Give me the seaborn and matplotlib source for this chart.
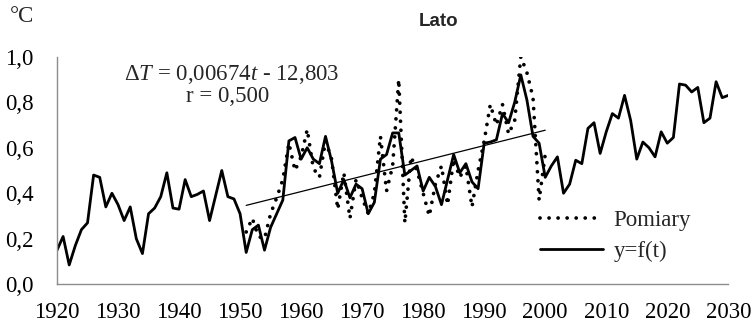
import numpy as np
import pandas as pd
import matplotlib
matplotlib.use("Agg")
import matplotlib.pyplot as plt
import seaborn as sns

# ---- data ----
model_years = list(range(1920, 2031))
model_values = [
    0.15, 0.21, 0.085, 0.17, 0.24, 0.27, 0.48, 0.47, 0.34, 0.40,   # 1920-1929
    0.35, 0.28, 0.34, 0.20, 0.135, 0.31, 0.335, 0.385, 0.49, 0.335,  # 1930-1939
    0.33, 0.46, 0.385, 0.395, 0.41, 0.28, 0.39, 0.50, 0.385, 0.375,  # 1940-1949
    0.31, 0.14, 0.24, 0.26, 0.15, 0.25, 0.31, 0.37, 0.63, 0.645,     # 1950-1959
    0.55, 0.60, 0.55, 0.53, 0.65, 0.54, 0.40, 0.46, 0.38, 0.44,      # 1960-1969
    0.42, 0.31, 0.36, 0.55, 0.57, 0.665, 0.665, 0.48, 0.50, 0.52,    # 1970-1979
    0.41, 0.47, 0.43, 0.35, 0.46, 0.57, 0.49, 0.53, 0.45, 0.42,      # 1980-1989
    0.62, 0.625, 0.635, 0.75, 0.71, 0.80, 0.92, 0.81, 0.65, 0.62,    # 1990-1999
    0.47, 0.52, 0.56, 0.40, 0.44, 0.545, 0.53, 0.685, 0.71, 0.575,   # 2000-2009
    0.67, 0.75, 0.73, 0.83, 0.72, 0.55, 0.625, 0.60, 0.56, 0.67,     # 2010-2019
    0.62, 0.645, 0.88, 0.875, 0.845, 0.865, 0.71, 0.73, 0.89, 0.82,  # 2020-2029
    0.83,                                                            # 2030
]

meas_years = list(range(1951, 2001))
meas_values = [
    0.23, 0.29, 0.21, 0.20, 0.31, 0.38, 0.46, 0.62, 0.50,            # 1951-1959
    0.56, 0.68, 0.51, 0.47, 0.63, 0.55, 0.33, 0.49, 0.29, 0.46,      # 1960-1969
    0.38, 0.31, 0.40, 0.65, 0.41, 0.52, 0.90, 0.27, 0.56, 0.50,      # 1970-1979
    0.40, 0.30, 0.44, 0.52, 0.35, 0.55, 0.47, 0.52, 0.34, 0.50,      # 1980-1989
    0.63, 0.79, 0.70, 0.79, 0.66, 0.72, 1.00, 0.93, 0.82, 0.37,      # 1990-1999
    0.57,                                                            # 2000
]

trend_slope = 0.00674
trend_intercept = -12.803
trend_years = [1951, 2000]

x_ticks = list(range(1920, 2031, 10))
y_ticks = [0.0, 0.2, 0.4, 0.6, 0.8, 1.0]
y_tick_labels = ["0,0", "0,2", "0,4", "0,6", "0,8", "1,0"]

# ---- frames ----
df_model = pd.DataFrame({"year": model_years, "value": model_values})
df_meas = pd.DataFrame({"year": meas_years, "value": meas_values})
df_trend = pd.DataFrame({"year": trend_years,
                         "value": [trend_slope * t + trend_intercept for t in trend_years]})

sns.set_style("white")
plt.rcParams["font.family"] = ["Liberation Serif", "DejaVu Serif"]
plt.rcParams["mathtext.fontset"] = "custom"
plt.rcParams["mathtext.rm"] = "Liberation Serif"
plt.rcParams["mathtext.it"] = "Liberation Serif:italic"

FS = 16.5

fig = plt.figure(figsize=(7.53, 3.30), dpi=100)
ax = fig.add_axes([57 / 753, 1 - 284.3 / 330, (728.3 - 57) / 753, (284.3 - 56.7) / 330])

sns.lineplot(data=df_trend, x="year", y="value", ax=ax, color="black", lw=0.9,
             legend=False)
sns.lineplot(data=df_meas, x="year", y="value", ax=ax, color="black", lw=2.7,
             linestyle=(0, (0.01, 2.4)), dash_capstyle="round", label="Pomiary")
sns.lineplot(data=df_model, x="year", y="value", ax=ax, color="black", lw=2.0,
             label="y=f(t)")

ax.set_xlim(1920, 2030)
ax.set_ylim(0, 1.0)
ax.set_xticks(x_ticks)
ax.set_xticklabels([str(t) for t in x_ticks])
ax.set_yticks(y_ticks)
ax.set_yticklabels(y_tick_labels)
ax.set_xlabel("")
ax.set_ylabel("")

for s in ["top", "right"]:
    ax.spines[s].set_visible(False)
for s in ["left", "bottom"]:
    ax.spines[s].set_color("#8c8c8c")
    ax.spines[s].set_linewidth(1.0)

ax.tick_params(axis="both", which="major", direction="out", length=5,
               width=1.0, color="#8c8c8c", labelsize=FS, labelcolor="black")
ax.tick_params(axis="x", pad=8)
ax.tick_params(axis="y", pad=12)

leg = ax.legend(loc="upper left", bbox_to_anchor=(540 / 753, 1 - 210 / 330),
                bbox_transform=fig.transFigure, frameon=False, fontsize=FS,
                handlelength=2.75, handletextpad=0.45, labelspacing=0.43,
                borderaxespad=0, borderpad=0)

fig.text(22 / 753, 1 - 17 / 330, "°C", fontsize=FS, ha="center", va="center")
fig.text(439 / 753, 1 - 21 / 330, "Lato", fontsize=13.5, fontweight="bold",
         ha="center", va="center", family=["Liberation Sans", "DejaVu Sans"])
fig.text(232 / 753, 1 - 75 / 330, r"$\Delta\mathit{T}$ = 0,00674$\mathit{t}$ - 12,803",
         fontsize=FS, ha="center", va="center")
fig.text(228 / 753, 1 - 97 / 330, "r = 0,500", fontsize=FS, ha="center", va="center")

fig.savefig("out.png", dpi=100)
